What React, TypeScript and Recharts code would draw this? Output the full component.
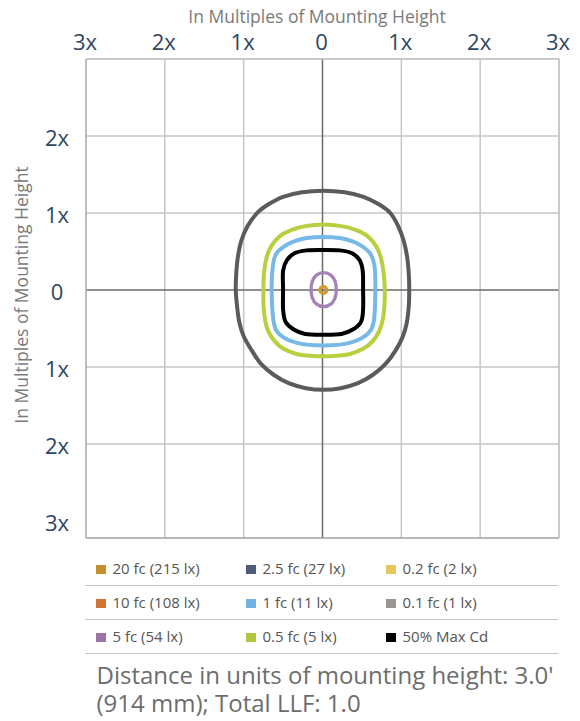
import React from 'react';
import { ComposedChart, XAxis, YAxis, Line, ReferenceLine, Label } from 'recharts';

// ---- data (units: multiples of mounting height) ----
const xTicks = [-3, -2, -1, 0, 1, 2, 3];
const yTicks = [2, 1, 0, -1, -2, -3];
const xGrid = [-2, -1, 1, 2];
const yGrid = [2, 1, -1, -2];
const xDomain: [number, number] = [-3, 3];
const yDomain: [number, number] = [-3.22, 3];

const contour01fc = [
  { x: 0.01, y: 1.29 }, { x: 0.28, y: 1.27 }, { x: 0.52, y: 1.21 }, { x: 0.72, y: 1.11 },
  { x: 0.86, y: 1.0 }, { x: 0.96, y: 0.83 }, { x: 1.03, y: 0.64 }, { x: 1.075, y: 0.42 },
  { x: 1.095, y: 0.2 }, { x: 1.1, y: 0 }, { x: 1.095, y: -0.2 }, { x: 1.07, y: -0.42 },
  { x: 1.02, y: -0.6 }, { x: 0.93, y: -0.78 }, { x: 0.8, y: -0.96 }, { x: 0.64, y: -1.1 },
  { x: 0.45, y: -1.21 }, { x: 0.23, y: -1.275 }, { x: 0.01, y: -1.295 }, { x: -0.21, y: -1.275 },
  { x: -0.43, y: -1.21 }, { x: -0.62, y: -1.1 }, { x: -0.78, y: -0.96 }, { x: -0.9, y: -0.78 },
  { x: -1.0, y: -0.6 }, { x: -1.055, y: -0.42 }, { x: -1.085, y: -0.2 }, { x: -1.1, y: 0 },
  { x: -1.095, y: 0.2 }, { x: -1.075, y: 0.42 }, { x: -1.03, y: 0.64 }, { x: -0.95, y: 0.83 },
  { x: -0.83, y: 1.0 }, { x: -0.69, y: 1.11 }, { x: -0.5, y: 1.21 }, { x: -0.26, y: 1.27 },
];

const contour05fc = [
  { x: 0.01, y: 0.85 }, { x: 0.24, y: 0.83 }, { x: 0.42, y: 0.78 }, { x: 0.57, y: 0.7 },
  { x: 0.68, y: 0.57 }, { x: 0.74, y: 0.42 }, { x: 0.775, y: 0.22 }, { x: 0.79, y: 0 },
  { x: 0.785, y: -0.2 }, { x: 0.765, y: -0.38 }, { x: 0.72, y: -0.53 }, { x: 0.64, y: -0.66 },
  { x: 0.52, y: -0.76 }, { x: 0.35, y: -0.83 }, { x: 0.18, y: -0.852 }, { x: 0.01, y: -0.86 },
  { x: -0.16, y: -0.852 }, { x: -0.33, y: -0.83 }, { x: -0.5, y: -0.76 }, { x: -0.61, y: -0.66 },
  { x: -0.69, y: -0.53 }, { x: -0.73, y: -0.38 }, { x: -0.748, y: -0.2 }, { x: -0.75, y: 0 },
  { x: -0.742, y: 0.22 }, { x: -0.71, y: 0.42 }, { x: -0.65, y: 0.57 }, { x: -0.54, y: 0.7 },
  { x: -0.39, y: 0.78 }, { x: -0.22, y: 0.83 },
];

const contour1fc = [
  { x: 0.67, y: 0 }, { x: 0.66, y: 0.31 }, { x: 0.6, y: 0.48 }, { x: 0.43, y: 0.61 },
  { x: 0.22, y: 0.675 }, { x: 0.01, y: 0.69 }, { x: -0.2, y: 0.675 }, { x: -0.41, y: 0.61 },
  { x: -0.58, y: 0.48 }, { x: -0.63, y: 0.31 }, { x: -0.645, y: 0 }, { x: -0.62, y: -0.41 },
  { x: -0.54, y: -0.58 }, { x: -0.31, y: -0.69 }, { x: 0.01, y: -0.72 }, { x: 0.33, y: -0.69 },
  { x: 0.56, y: -0.58 }, { x: 0.65, y: -0.41 },
];

const contourMaxCd = [
  { x: 0.515, y: 0 }, { x: 0.51, y: 0.25 }, { x: 0.47, y: 0.39 }, { x: 0.37, y: 0.48 },
  { x: 0.22, y: 0.515 }, { x: 0.01, y: 0.52 }, { x: -0.2, y: 0.515 }, { x: -0.35, y: 0.48 },
  { x: -0.45, y: 0.39 }, { x: -0.5, y: 0.25 }, { x: -0.5, y: 0 }, { x: -0.5, y: -0.25 },
  { x: -0.47, y: -0.41 }, { x: -0.37, y: -0.51 }, { x: -0.22, y: -0.57 }, { x: 0.01, y: -0.58 },
  { x: 0.24, y: -0.57 }, { x: 0.39, y: -0.51 }, { x: 0.49, y: -0.41 }, { x: 0.515, y: -0.25 },
];

const contour5fc = [
  { x: 0.175, y: 0 }, { x: 0.16, y: 0.11 }, { x: 0.11, y: 0.19 }, { x: 0.015, y: 0.225 },
  { x: -0.08, y: 0.19 }, { x: -0.13, y: 0.11 }, { x: -0.145, y: 0 }, { x: -0.13, y: -0.1 },
  { x: -0.08, y: -0.18 }, { x: 0.015, y: -0.215 }, { x: 0.11, y: -0.18 }, { x: 0.16, y: -0.1 },
];

const contour20fc = [
  { x: 0.054, y: 0 }, { x: 0.041, y: 0.031 }, { x: 0.01, y: 0.044 }, { x: -0.021, y: 0.031 },
  { x: -0.034, y: 0 }, { x: -0.021, y: -0.031 }, { x: 0.01, y: -0.044 }, { x: 0.041, y: -0.031 },
];

const legendRows = [
  [
    { label: '20 fc (215 lx)', color: '#c48f2c' },
    { label: '2.5 fc (27 lx)', color: '#4e5d77' },
    { label: '0.2 fc (2 lx)', color: '#e6c55b' },
  ],
  [
    { label: '10 fc (108 lx)', color: '#d27536' },
    { label: '1 fc (11 lx)', color: '#6fb3e3' },
    { label: '0.1 fc (1 lx)', color: '#9a9592' },
  ],
  [
    { label: '5 fc (54 lx)', color: '#9b74a6' },
    { label: '0.5 fc (5 lx)', color: '#b0c63f' },
    { label: '50% Max Cd', color: '#000000' },
  ],
];

const axisTitle = 'In Multiples of Mounting Height';
const footerText = "Distance in units of mounting height: 3.0' (914 mm); Total LLF: 1.0";

const FONT = '"Open Sans", sans-serif';

// closed Catmull-Rom curve factory (d3-shape curve interface)
const closedCurve: any = (context: any) => {
  let pts: number[][] = [];
  return {
    areaStart() {},
    areaEnd() {},
    lineStart() { pts = []; },
    point(x: number, y: number) { pts.push([+x, +y]); },
    lineEnd() {
      const n = pts.length;
      if (!n) return;
      context.moveTo(pts[0][0], pts[0][1]);
      for (let i = 0; i < n; i++) {
        const p0 = pts[(i - 1 + n) % n];
        const p1 = pts[i];
        const p2 = pts[(i + 1) % n];
        const p3 = pts[(i + 2) % n];
        context.bezierCurveTo(
          p1[0] + (p2[0] - p0[0]) / 6, p1[1] + (p2[1] - p0[1]) / 6,
          p2[0] - (p3[0] - p1[0]) / 6, p2[1] - (p3[1] - p1[1]) / 6,
          p2[0], p2[1]
        );
      }
      context.closePath();
    },
  };
};

const fmt = (v: number) => (v === 0 ? '0' : `${Math.abs(v)}x`);

const XTick = (props: any) => {
  const { x, payload } = props;
  return (
    <text x={x - 1} y={50} textAnchor="middle" fontSize={22} fill="#2e4660" fontFamily={FONT}>
      {fmt(payload.value)}
    </text>
  );
};

const YTick = (props: any) => {
  const { y, payload } = props;
  return (
    <text x={57} y={y + 10} textAnchor="middle" fontSize={22} fill="#2e4660" fontFamily={FONT}>
      {fmt(payload.value)}
    </text>
  );
};

const XTitle = (props: any) => {
  const vb = props.viewBox || { x: 86, width: 473 };
  const cx = vb.x + vb.width / 2 - 5.5;
  return (
    <text x={cx} y={23} textAnchor="middle" fontSize={17.5} fill="#7a7a7a" fontFamily={FONT}>
      {axisTitle}
    </text>
  );
};

const YTitle = () => (
  <text
    x={28}
    y={295}
    transform="rotate(-90 28 295)"
    textAnchor="middle"
    fontSize={17.5}
    fill="#7a7a7a"
    fontFamily={FONT}
  >
    {axisTitle}
  </text>
);

const contours = [
  { data: contour01fc, color: '#5b5b59', width: 4 },
  { data: contour05fc, color: '#b8cf3f', width: 4 },
  { data: contour1fc, color: '#76b9e8', width: 4 },
  { data: contourMaxCd, color: '#000000', width: 4 },
  { data: contour5fc, color: '#a482b8', width: 3.3 },
  { data: contour20fc, color: '#d29a2f', width: 3.3 },
];

export default function App() {
  return (
    <div style={{ position: 'absolute', left: 0, top: 0, width: 580, height: 721, background: '#fff' }}>
      <ComposedChart width={580} height={540} margin={{ top: 0, right: 21, bottom: 2, left: 0 }}>
        <XAxis
          xAxisId={0}
          type="number"
          dataKey="x"
          orientation="top"
          domain={xDomain}
          ticks={xTicks}
          interval={0}
          allowDataOverflow
          axisLine={false}
          tickLine={false}
          height={59}
          tick={<XTick />}
        >
          <Label content={<XTitle />} />
        </XAxis>
        <YAxis
          yAxisId={0}
          type="number"
          domain={yDomain}
          ticks={yTicks}
          interval={0}
          allowDataOverflow
          axisLine={false}
          tickLine={false}
          width={86}
          tick={<YTick />}
        >
          <Label content={<YTitle />} />
        </YAxis>
        {xGrid.map((v) => (
          <ReferenceLine key={'gx' + v} x={v} stroke="#c6c6c6" strokeWidth={1.5} />
        ))}
        {yGrid.map((v) => (
          <ReferenceLine key={'gy' + v} y={v} stroke="#c6c6c6" strokeWidth={1.5} />
        ))}
        <ReferenceLine x={0} stroke="#6a6a6a" strokeWidth={1.5} />
        <ReferenceLine y={0} stroke="#6a6a6a" strokeWidth={1.5} />
        <ReferenceLine x={xDomain[0]} stroke="#a8a8a8" strokeWidth={1.5} />
        <ReferenceLine x={xDomain[1]} stroke="#b8b8b8" strokeWidth={1.5} />
        <ReferenceLine y={yDomain[0]} stroke="#a0a0a0" strokeWidth={1.5} />
        <ReferenceLine y={yDomain[1]} stroke="#b8b8b8" strokeWidth={1.5} />
        {contours.map((c, i) => (
          <Line
            key={'c' + i}
            data={c.data}
            dataKey="y"
            type={closedCurve}
            stroke={c.color}
            strokeWidth={c.width}
            fill="none"
            dot={false}
            activeDot={false}
            isAnimationActive={false}
            legendType="none"
          />
        ))}
      </ComposedChart>
      <div style={{ position: 'absolute', left: 85, top: 552, width: 473, fontFamily: FONT, fontSize: 15, color: '#555' }}>
        {legendRows.map((row, ri) => (
          <div
            key={ri}
            style={{ height: 33, lineHeight: '33px', borderBottom: '1.5px solid #c4c4c4', position: 'relative', whiteSpace: 'nowrap' }}
          >
            {row.map((item, ci) => (
              <span key={ci} style={{ position: 'absolute', left: [11, 161, 301][ci], top: 0 }}>
                <span
                  style={{ display: 'inline-block', width: 10, height: 9.5, background: item.color, marginRight: 6.5, verticalAlign: 'baseline' }}
                />
                {item.label}
              </span>
            ))}
          </div>
        ))}
      </div>
      <div style={{ position: 'absolute', left: 96.5, top: 660.5, width: 478, fontFamily: FONT, fontSize: 24, lineHeight: '28px', color: '#6d6d6d' }}>
        {footerText}
      </div>
    </div>
  );
}
